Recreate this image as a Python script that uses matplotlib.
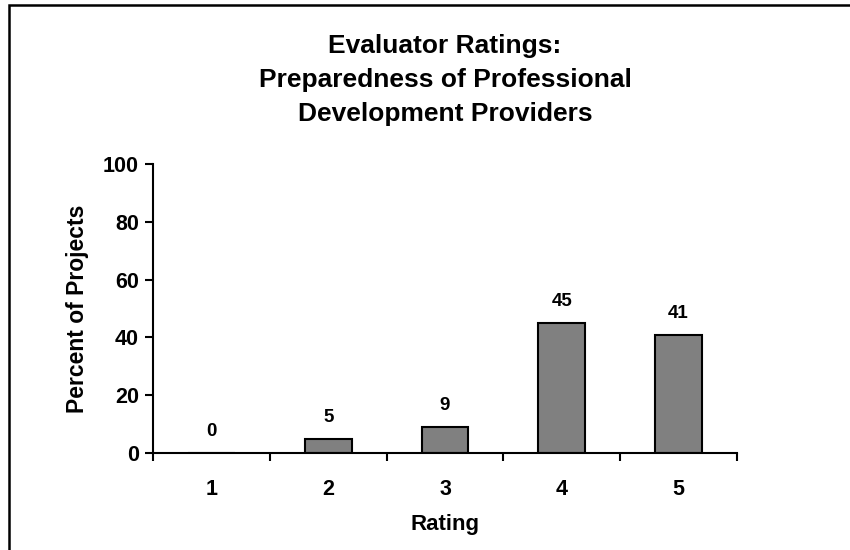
import matplotlib.pyplot as plt
from matplotlib.patches import Rectangle

ratings = ["1", "2", "3", "4", "5"]
percents = [0, 5, 9, 45, 41]
y_ticks = [0, 20, 40, 60, 80, 100]

plt.rcParams["font.family"] = ["Liberation Sans", "DejaVu Sans"]
plt.rcParams["font.weight"] = "bold"

fig = plt.figure(figsize=(8.5, 5.5), dpi=100)
ax = fig.add_axes([153 / 850, 1 - 453 / 550, 584 / 850, 289 / 550])

x = list(range(1, len(ratings) + 1))
bars = ax.bar(x, percents, width=0.4, color="#808080", edgecolor="black", linewidth=1.5)
for xi, v in zip(x, percents):
    ax.annotate(str(v), (xi, v), xytext=(0, 9), textcoords="offset points",
                ha="center", va="bottom", fontsize=13.5, fontweight="bold")

ax.set_xlim(0.5, len(ratings) + 0.5)
ax.set_ylim(0, 100)
ax.set_yticks(y_ticks)
ax.set_yticklabels([str(t) for t in y_ticks], fontsize=15.5, fontweight="bold")
ax.set_xticks([i + 0.5 for i in range(len(ratings) + 1)])
ax.set_xticklabels([])
ax.set_xticks(x, minor=True)
ax.set_xticklabels(ratings, minor=True, fontsize=15.5, fontweight="bold")
ax.tick_params(axis="x", which="major", direction="out", length=6, width=1.5)
ax.tick_params(axis="x", which="minor", length=0, pad=19)
ax.tick_params(axis="y", direction="out", length=6, width=1.5, pad=4)

for s in ["top", "right"]:
    ax.spines[s].set_visible(False)
for s in ["left", "bottom"]:
    ax.spines[s].set_linewidth(1.5)

ax.set_xlabel("Rating", fontsize=16, fontweight="bold", labelpad=10)
ax.set_ylabel("Percent of Projects", fontsize=16.5, fontweight="bold", labelpad=10)

fig.text(445 / 850, 1 - 80 / 550,
         "Evaluator Ratings:\nPreparedness of Professional\nDevelopment Providers",
         ha="center", va="center", fontsize=19, fontweight="bold", linespacing=1.5)

fig.patches.append(Rectangle((9 / 850, -0.1), 1.2, 1 - 5 / 550 + 0.1,
                             transform=fig.transFigure, fill=False,
                             edgecolor="black", linewidth=1.8))

fig.savefig("out.png", dpi=100)
